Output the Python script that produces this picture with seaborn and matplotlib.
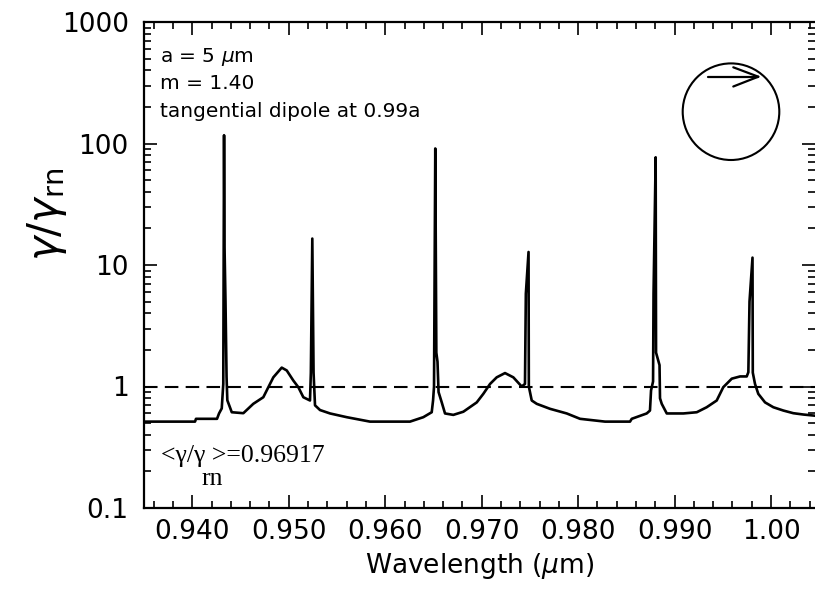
import numpy as np
import pandas as pd
import matplotlib
matplotlib.use("Agg")
import matplotlib.pyplot as plt
import seaborn as sns
from matplotlib.ticker import FixedLocator, MultipleLocator, LogLocator, NullFormatter
from matplotlib.patches import Circle
from matplotlib.lines import Line2D

# ---- data ----
wavelength = [0.93510, 0.94028, 0.94038, 0.94256, 0.94277, 0.94305, 0.94321, 0.94329,
              0.94334, 0.94344, 0.94355, 0.94363, 0.94409, 0.94529, 0.94632, 0.94736,
              0.94771, 0.94840, 0.94927, 0.94979, 0.95047, 0.95099, 0.95151, 0.95220,
              0.95229, 0.95244, 0.95257, 0.95272, 0.95324, 0.95428, 0.95601, 0.95842,
              0.96257, 0.96395, 0.96482, 0.96496, 0.96506, 0.96519, 0.96530, 0.96542,
              0.96553, 0.96586, 0.96620, 0.96706, 0.96810, 0.96949, 0.97017, 0.97087,
              0.97156, 0.97242, 0.97328, 0.97415, 0.97449, 0.97458, 0.97486, 0.97489,
              0.97519, 0.97571, 0.97709, 0.97882, 0.98020, 0.98279, 0.98538, 0.98556,
              0.98711, 0.98745, 0.98756, 0.98777, 0.98782, 0.98804, 0.98808, 0.98844,
              0.98849, 0.98867, 0.98919, 0.99091, 0.99230, 0.99333, 0.99437, 0.99505,
              0.99593, 0.99679, 0.99748, 0.99765, 0.99777, 0.99808, 0.99811, 0.99834,
              0.99868, 0.99938, 1.00024, 1.00128, 1.00231, 1.00335, 1.00456]
ratio = [0.514, 0.514, 0.542, 0.542, 0.60, 0.66, 1.05, 117.0,
         14.0, 5.0, 1.2, 0.77, 0.614, 0.603, 0.72, 0.816,
         0.927, 1.19, 1.43, 1.355, 1.12, 0.987, 0.816, 0.767,
         1.3, 16.5, 1.3, 0.70, 0.64, 0.60, 0.559, 0.514,
         0.514, 0.559, 0.614, 0.767, 1.0, 91.0, 1.9, 1.6,
         0.9, 0.74, 0.60, 0.584, 0.62, 0.74, 0.87, 1.05,
         1.19, 1.29, 1.19, 1.0, 1.05, 5.8, 12.8, 1.0,
         0.767, 0.72, 0.655, 0.60, 0.542, 0.514, 0.514, 0.542,
         0.60, 0.634, 0.927, 1.1, 5.8, 77.0, 1.9, 1.5,
         0.8, 0.72, 0.60, 0.60, 0.614, 0.675, 0.767, 0.987,
         1.16, 1.21, 1.21, 1.31, 5.0, 11.5, 1.3, 1.05,
         0.87, 0.74, 0.675, 0.634, 0.603, 0.588, 0.575]

x_ticks = [0.94, 0.95, 0.96, 0.97, 0.98, 0.99, 1.00]
x_tick_labels = ["0.940", "0.950", "0.960", "0.970", "0.980", "0.990", "1.00"]
y_ticks = [0.1, 1, 10, 100, 1000]
y_tick_labels = ["0.1", "1", "10", "100", "1000"]
mean_ratio_text = "<\u03b3/\u03b3 >=0.96917"
param_lines = ["a = 5 $\\mu$m", "m = 1.40", "tangential dipole at 0.99a"]

df = pd.DataFrame({"wavelength": wavelength, "ratio": ratio})

sns.set_theme(style="ticks")
plt.rcParams["font.family"] = ["DejaVu Sans"]
plt.rcParams["mathtext.fontset"] = "dejavusans"
for k in ["text.color", "axes.labelcolor", "xtick.color", "ytick.color", "axes.edgecolor"]:
    plt.rcParams[k] = "black"

W, H = 815, 590
fig = plt.figure(figsize=(W / 100, H / 100), dpi=100)
ax = fig.add_axes([144 / W, (H - 508) / H, (815 - 144) / W, (508 - 22) / H])

sns.lineplot(data=df, x="wavelength", y="ratio", ax=ax, sort=False, estimator=None,
             color="black", linewidth=1.9)
ax.axhline(1.0, color="black", linewidth=1.5, dashes=(6.5, 3.5))

ax.set_yscale("log")
ax.set_ylim(0.1, 1000)
ax.set_xlim(0.93499, 1.00456)

ax.xaxis.set_major_locator(FixedLocator(x_ticks))
ax.set_xticklabels(x_tick_labels)
ax.xaxis.set_minor_locator(MultipleLocator(0.002))
ax.yaxis.set_major_locator(FixedLocator(y_ticks))
ax.set_yticklabels(y_tick_labels)
ax.yaxis.set_minor_locator(LogLocator(base=10, subs=np.arange(2, 10)))
ax.yaxis.set_minor_formatter(NullFormatter())

ax.tick_params(which="both", direction="in", top=True, right=True, color="black",
               labelcolor="black", width=1.2)
ax.tick_params(which="major", length=9.5, labelsize=19, pad=8)
ax.tick_params(which="minor", length=5)
ax.tick_params(axis="y", which="major", pad=11)
for s in ["left", "bottom", "top"]:
    ax.spines[s].set_linewidth(1.6)
    ax.spines[s].set_color("black")
ax.spines["right"].set_visible(False)

ax.set_xlabel("Wavelength ($\\mu$m)", fontsize=19, labelpad=4, color="black")
ax.set_ylabel("")
fig.text(47 / W, 1 - 214 / H, r"$\gamma/\gamma_{\mathrm{rn}}$", rotation=90,
         ha="center", va="center", fontsize=30, color="black")

# parameter annotations
for i, t in enumerate(param_lines):
    fig.text(160 / W, 1 - (61.7 + 27.5 * i) / H, t, fontsize=14.5, ha="left",
             va="baseline", color="black")

# mean value text (serif)
fig.text(161 / W, 1 - 462 / H, mean_ratio_text, family=["Liberation Serif", "DejaVu Serif"],
         fontsize=18.5, ha="left", va="baseline", color="black")
fig.text(201 / W, 1 - 485 / H, "rn", family=["Liberation Serif", "DejaVu Serif"],
         fontsize=18.5, ha="left", va="baseline", color="black")

# sphere with dipole arrow
tr = fig.dpi_scale_trans
fig.patches.append(Circle((731 / 100, (H - 111.7) / 100), 0.483, transform=tr,
                          fill=False, edgecolor="black", linewidth=1.5))
ya = (H - 76.7) / 100
fig.lines.append(Line2D([708.3 / 100, 758.3 / 100], [ya, ya], transform=tr, color="black", lw=1.6))
fig.lines.append(Line2D([733.3 / 100, 758.3 / 100], [(H - 67.3) / 100, ya], transform=tr, color="black", lw=1.6))
fig.lines.append(Line2D([733.3 / 100, 758.3 / 100], [(H - 86.5) / 100, ya], transform=tr, color="black", lw=1.6))

fig.savefig("out.png", dpi=100)
